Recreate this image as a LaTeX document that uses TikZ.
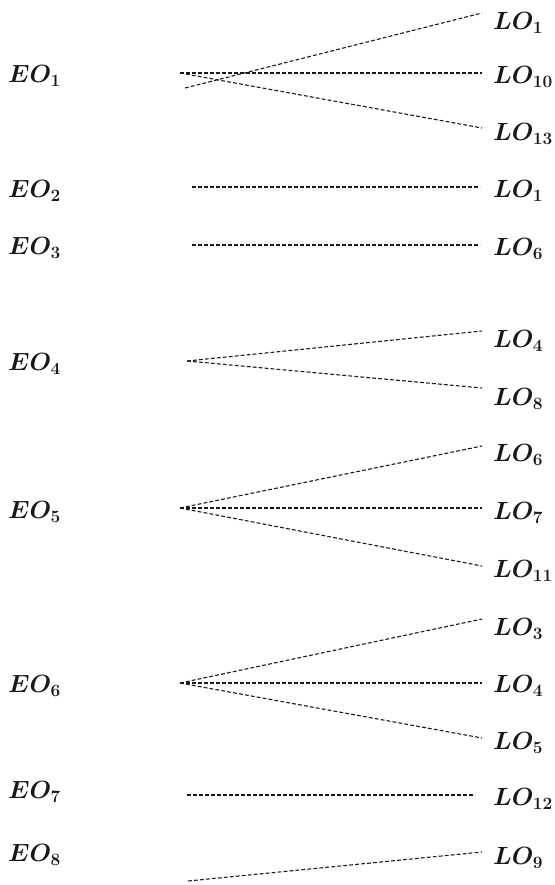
\documentclass[tikz,border=0pt]{standalone}
\usepackage{amsmath}
\tikzset{
  lbl/.style={anchor=west, inner sep=0pt, font=\fontsize{24}{28}\selectfont\boldmath, text=black!90},
  link/.style={draw=black!90, line width=1.1pt, dash pattern=on 3.8pt off 2.2pt}
}
\newcommand{\sbx}[1]{_{\mathbf{#1}}}
\begin{document}
\begin{tikzpicture}[x=1pt,y=-1pt]
\useasboundingbox (0,0) rectangle (554,885);
% left labels
\node[lbl] (eo1) at (8,76) {$EO\sbx{1}$};
\node[lbl] (eo2) at (8,191) {$EO\sbx{2}$};
\node[lbl] (eo3) at (8,248) {$EO\sbx{3}$};
\node[lbl] (eo4) at (8,364) {$EO\sbx{4}$};
\node[lbl] (eo5) at (8,512) {$EO\sbx{5}$};
\node[lbl] (eo6) at (8,686) {$EO\sbx{6}$};
\node[lbl] (eo7) at (8,792) {$EO\sbx{7}$};
\node[lbl] (eo8) at (8,855) {$EO\sbx{8}$};
% right labels
\node[lbl] (lo1a) at (493,23) {$LO\sbx{1}$};
\node[lbl] (lo10) at (493,77) {$LO\sbx{10}$};
\node[lbl] (lo13) at (493,134) {$LO\sbx{13}$};
\node[lbl] (lo1b) at (493,191) {$LO\sbx{1}$};
\node[lbl] (lo6a) at (493,249) {$LO\sbx{6}$};
\node[lbl] (lo4a) at (493,341) {$LO\sbx{4}$};
\node[lbl] (lo8) at (493,399) {$LO\sbx{8}$};
\node[lbl] (lo6b) at (493,455) {$LO\sbx{6}$};
\node[lbl] (lo7) at (493,513) {$LO\sbx{7}$};
\node[lbl] (lo11) at (493,571) {$LO\sbx{11}$};
\node[lbl] (lo3) at (493,629) {$LO\sbx{3}$};
\node[lbl] (lo4b) at (493,686) {$LO\sbx{4}$};
\node[lbl] (lo5) at (493,743) {$LO\sbx{5}$};
\node[lbl] (lo12) at (493,799) {$LO\sbx{12}$};
\node[lbl] (lo9) at (493,858) {$LO\sbx{9}$};
% start points
\coordinate (s1) at (180,73);
\coordinate (s1b) at (185,88);
\coordinate (s2) at (192,187);
\coordinate (s3) at (192,245);
\coordinate (s4) at (187,361);
\coordinate (s5) at (180,508);
\coordinate (s6) at (180,683);
\coordinate (s7) at (187,795);
\coordinate (s8) at (188,881);
% end points
\coordinate (t1a) at (482,13);
\coordinate (t10) at (482,73);
\coordinate (t13) at (482,128);
\coordinate (t1b) at (480,187);
\coordinate (t6a) at (480,245);
\coordinate (t4a) at (482,331);
\coordinate (t8) at (482,388);
\coordinate (t6b) at (482,446);
\coordinate (t7) at (482,508);
\coordinate (t11) at (482,566);
\coordinate (t3) at (482,619);
\coordinate (t4b) at (482,683);
\coordinate (t5) at (482,738);
\coordinate (t12) at (475,795);
\coordinate (t9) at (482,852);
% links
\draw[link] (s1) -- (t10);
\draw[link] (s1) -- (t13);
\draw[link] (s1b) -- (t1a);
\draw[link] (s2) -- (t1b);
\draw[link] (s3) -- (t6a);
\draw[link] (s4) -- (t4a);
\draw[link] (s4) -- (t8);
\draw[link] (s5) -- (t6b);
\draw[link] (s5) -- (t7);
\draw[link] (s5) -- (t11);
\draw[link] (s6) -- (t3);
\draw[link] (s6) -- (t4b);
\draw[link] (s6) -- (t5);
\draw[link] (s7) -- (t12);
\draw[link] (s8) -- (t9);
\end{tikzpicture}
\end{document}
